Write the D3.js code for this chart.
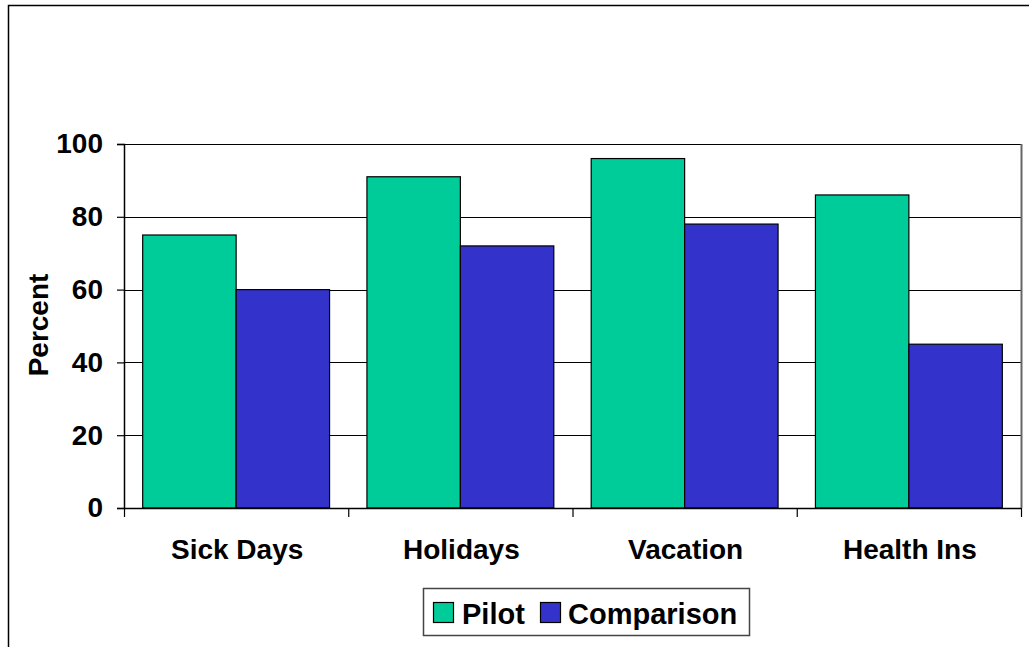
<!DOCTYPE html>
<html>
<head>
<meta charset="utf-8">
<script src="https://cdn.jsdelivr.net/npm/d3@7"></script>
<style>
  html, body { margin: 0; padding: 0; background: #fff; }
  svg text { font-family: "Liberation Sans", Arial, sans-serif; font-weight: bold; fill: #000; }
</style>
</head>
<body>
<svg id="chart" width="1029" height="647"></svg>
<script>
// Benefit coverage by group
const categories = ["Sick Days", "Holidays", "Vacation", "Health Ins"];
const seriesNames = ["Pilot", "Comparison"];
const pilotValues = [75, 91, 96, 86];
const comparisonValues = [60, 72, 78, 45];
const yTicks = [0, 20, 40, 60, 80, 100];
const colors = ["#00CC99", "#3333CC"];

const svg = d3.select("#chart");

// outer frame (extends past the right and bottom edges)
svg.append("rect")
  .attr("x", 8.5).attr("y", 5.5)
  .attr("width", 1100).attr("height", 700)
  .attr("fill", "none").attr("stroke", "#000").attr("stroke-width", 1.5);

const plot = { left: 124, right: 1021, top: 144, bottom: 508 };

const x = d3.scaleBand().domain(categories)
  .range([plot.left, plot.right]).paddingInner(0).paddingOuter(0);
// two touching bars per band, with a gap of 40% of a bar width split on both sides
const inner = d3.scaleBand().domain(seriesNames)
  .range([0, x.bandwidth()]).paddingInner(0).paddingOuter(0.2);
const y = d3.scaleLinear().domain([0, 100]).range([plot.bottom, plot.top]);

// gridlines
svg.append("g").selectAll("line").data(yTicks.filter(d => d > 0)).join("line")
  .attr("x1", plot.left).attr("x2", plot.right)
  .attr("y1", d => Math.round(y(d)) + 0.5).attr("y2", d => Math.round(y(d)) + 0.5)
  .attr("stroke", "#000").attr("stroke-width", 1.2);

// right plot border
svg.append("line")
  .attr("x1", plot.right + 0.5).attr("x2", plot.right + 0.5)
  .attr("y1", plot.top).attr("y2", plot.bottom)
  .attr("stroke", "#666").attr("stroke-width", 2);

// bars
const rows = categories.map((c, i) => ({ cat: c, vals: [pilotValues[i], comparisonValues[i]] }));
const groups = svg.append("g").selectAll("g").data(rows).join("g")
  .attr("transform", d => `translate(${x(d.cat)},0)`);
groups.selectAll("rect").data(d => d.vals.map((v, j) => ({ name: seriesNames[j], v, j }))).join("rect")
  .attr("x", d => inner(d.name))
  .attr("width", inner.bandwidth())
  .attr("y", d => y(d.v))
  .attr("height", d => y(0) - y(d.v))
  .attr("fill", d => colors[d.j])
  .attr("stroke", "#000").attr("stroke-width", 1.2);

// y axis
const yAxis = svg.append("g")
  .attr("transform", `translate(${plot.left},0)`)
  .call(d3.axisLeft(y).tickValues(yTicks).tickSize(7).tickPadding(14));
yAxis.select(".domain").attr("stroke", "#000").attr("stroke-width", 1.5);
yAxis.selectAll(".tick line").attr("stroke", "#000").attr("stroke-width", 1.2);
yAxis.selectAll(".tick text")
  .style("font-family", "'Liberation Sans', Arial, sans-serif")
  .style("font-weight", "bold").style("font-size", "28px").attr("fill", "#000");

// x axis with tick marks at band boundaries
svg.append("line")
  .attr("x1", plot.left).attr("x2", plot.right)
  .attr("y1", plot.bottom + 0.5).attr("y2", plot.bottom + 0.5)
  .attr("stroke", "#000").attr("stroke-width", 1.5);
const bounds = categories.map(c => x(c)).concat([plot.right]);
svg.append("g").selectAll("line").data(bounds).join("line")
  .attr("x1", d => d + 0.5).attr("x2", d => d + 0.5)
  .attr("y1", plot.bottom).attr("y2", plot.bottom + 9)
  .attr("stroke", "#000").attr("stroke-width", 1.2);
svg.append("g").selectAll("text").data(categories).join("text")
  .attr("x", d => x(d) + x.bandwidth() / 2 + 1)
  .attr("y", 559)
  .attr("text-anchor", "middle")
  .style("font-size", "28px")
  .text(d => d);

// y axis title
svg.append("text")
  .attr("transform", "translate(48,325) rotate(-90)")
  .attr("text-anchor", "middle")
  .style("font-size", "28px")
  .text("Percent");

// legend
const legend = svg.append("g");
legend.append("rect")
  .attr("x", 423.5).attr("y", 588.5).attr("width", 326).attr("height", 47)
  .attr("fill", "#fff").attr("stroke", "#444").attr("stroke-width", 1.5);
const items = [{ name: seriesNames[0], sx: 433, tx: 462 }, { name: seriesNames[1], sx: 540, tx: 568 }];
items.forEach((it, i) => {
  legend.append("rect")
    .attr("x", it.sx + 0.5).attr("y", 602.5).attr("width", 20).attr("height", 20)
    .attr("fill", colors[i]).attr("stroke", "#000").attr("stroke-width", 1.2);
  legend.append("text")
    .attr("x", it.tx).attr("y", 624)
    .style("font-size", "29px")
    .text(it.name);
});
</script>
</body>
</html>
